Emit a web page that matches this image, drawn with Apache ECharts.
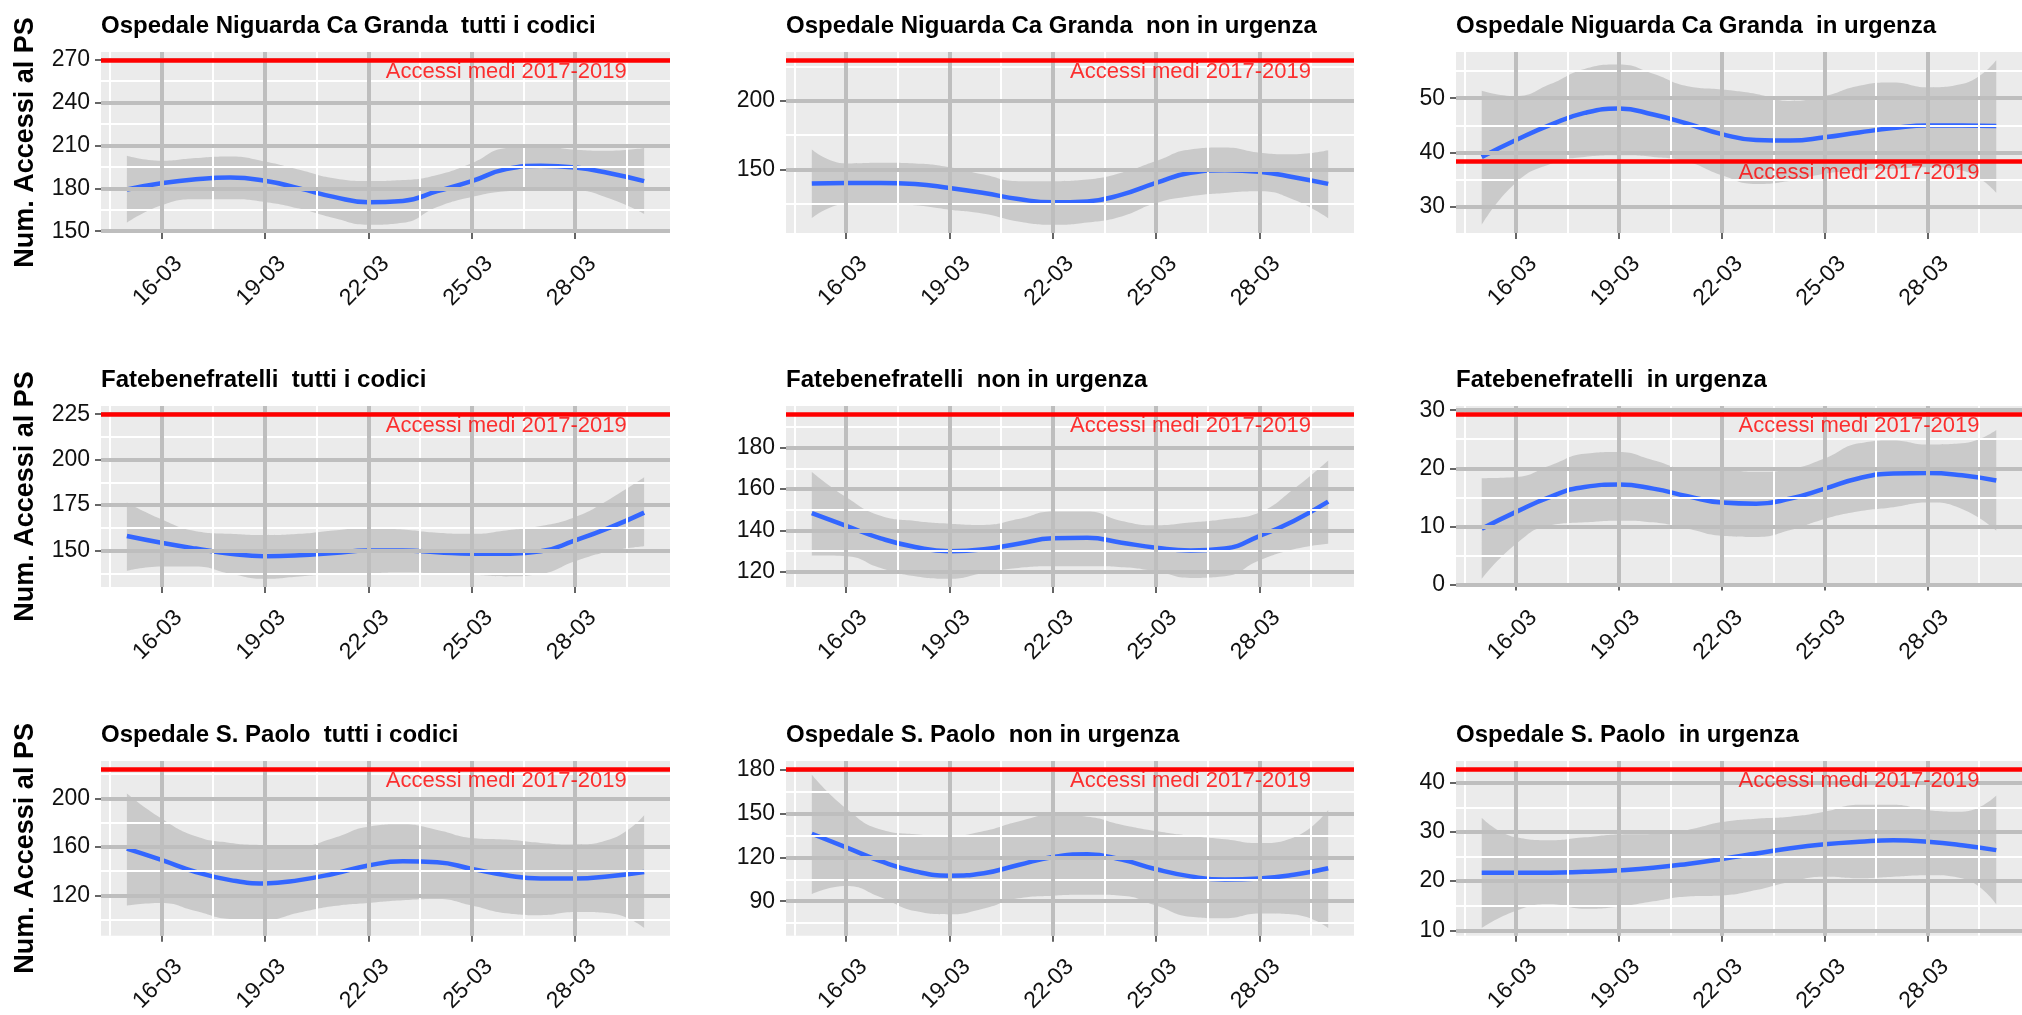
<!DOCTYPE html>
<html><head><meta charset="utf-8">
<script src="https://cdn.jsdelivr.net/npm/echarts@6/dist/echarts.min.js"></script>
<style>html,body{margin:0;padding:0;background:#fff}#c{width:2022px;height:1015px}</style>
</head><body><div id="c"></div><script>
// ---- DATA ----
const days = [15,16,17,18,19,20,21,22,23,24,25,26,27,28,29,30];
const xTickDays = [16,19,22,25,28];
const xTickLabels = ['16-03','19-03','22-03','25-03','28-03'];
const refLabelText = 'Accessi medi 2017-2019';
const refLabelDay = 26;
const yAxisTitle = 'Num. Accessi al PS';

const titles = [
  'Ospedale Niguarda Ca Granda  tutti i codici',
  'Ospedale Niguarda Ca Granda  non in urgenza',
  'Ospedale Niguarda Ca Granda  in urgenza',
  'Fatebenefratelli  tutti i codici',
  'Fatebenefratelli  non in urgenza',
  'Fatebenefratelli  in urgenza',
  'Ospedale S. Paolo  tutti i codici',
  'Ospedale S. Paolo  non in urgenza',
  'Ospedale S. Paolo  in urgenza'
];

// Niguarda - tutti i codici
const nigTuttiFit   = [179.2,183.5,186.3,187.5,185.3,180.0,174.0,170.3,171.2,178.0,185.0,193.4,195.7,194.5,190.5,185.0];
const nigTuttiUpper = [202.8,199.3,201.2,202.3,198.8,193.0,187.0,185.1,185.8,189.4,197.6,208.2,209.4,207.0,206.3,208.2];
const nigTuttiLower = [155.9,168.1,172.4,172.4,170.5,165.8,159.2,154.5,155.9,167.0,174.0,178.0,179.2,178.7,172.9,162.2];
const nigTuttiRef = 269.6;
const nigTuttiTicks = [150,180,210,240,270];

// Niguarda - non in urgenza
const nigNonFit   = [139.8,140.2,140.2,139.5,136.6,132.9,128.5,126.1,126.8,131.7,140.2,147.6,149.5,148.3,144.4,139.5];
const nigNonUpper = [164.6,154.4,154.9,154.4,151.7,146.3,141.5,141.5,142.7,147.6,156.1,164.6,165.9,162.2,161.0,163.9];
const nigNonLower = [114.6,125.1,125.6,123.9,120.7,117.8,112.2,109.8,111.5,115.9,125.6,130.5,132.9,134.1,128.0,114.6];
const nigNonRef = 229.4;
const nigNonTicks = [150,200];

// Niguarda - in urgenza
const nigUrgFit   = [39.2,42.3,45.1,47.3,48.1,47.0,45.3,43.4,42.3,42.2,42.8,43.7,44.5,45.0,45.0,44.9];
const nigUrgUpper = [51.4,50.4,52.6,55.4,56.2,54.5,52.2,51.6,50.8,49.5,50.4,52.3,52.9,52.0,52.6,57.0];
const nigUrgLower = [26.7,34.5,37.9,39.2,39.5,39.2,38.3,35.8,34.2,34.8,36.1,36.7,37.0,37.3,36.7,32.6];
const nigUrgRef = 38.4;
const nigUrgTicks = [30,40,50];

// Fatebenefratelli - tutti i codici
const fbfTuttiFit   = [158.0,154.3,151.1,148.3,146.9,147.4,148.7,150.0,150.0,149.1,148.2,148.3,149.6,155.6,162.6,170.9];
const fbfTuttiUpper = [176.4,167.2,160.7,159.2,158.5,159.2,161.1,162.6,161.6,159.8,159.2,161.1,163.5,168.5,178.3,190.3];
const fbfTuttiLower = [138.9,141.3,141.3,137.3,134.5,135.8,137.1,137.6,138.0,137.3,136.7,135.8,137.1,144.1,149.6,152.4];
const fbfTuttiRef = 225.0;
const fbfTuttiTicks = [150,175,200,225];

// Fatebenefratelli - non in urgenza
const fbfNonFit   = [148.4,142.2,136.2,132.0,130.0,130.9,133.6,136.2,136.5,134.1,131.7,130.4,131.3,137.3,144.6,153.9];
const fbfNonUpper = [168.2,156.0,147.1,144.6,143.3,142.7,145.5,149.2,149.2,144.6,142.5,143.8,145.5,148.7,160.0,173.8];
const fbfNonLower = [127.9,127.6,121.9,117.9,116.7,119.5,121.9,122.7,122.7,122.3,120.3,117.1,117.9,125.5,130.9,133.6];
const fbfNonRef = 196.1;
const fbfNonTicks = [120,140,160,180];

// Fatebenefratelli - in urgenza
const fbfUrgFit   = [9.6,12.5,15.1,16.8,17.2,16.5,15.2,14.1,13.9,14.8,16.5,18.3,19.1,19.2,18.8,17.9];
const fbfUrgUpper = [18.3,18.5,20.5,22.5,22.8,21.4,19.9,19.8,19.4,19.9,21.7,24.3,24.8,24.1,24.3,26.6];
const fbfUrgLower = [1.0,7.0,10.2,10.7,11.0,10.7,9.6,8.4,8.2,9.4,11.3,12.6,13.3,14.1,13.0,9.3];
const fbfUrgRef = 29.3;
const fbfUrgTicks = [0,10,20,30];

// S. Paolo - tutti i codici
const spTuttiFit   = [158.5,149.2,139.3,132.6,129.9,132.6,137.9,144.6,148.1,147.3,141.9,136.6,133.9,133.9,135.8,139.3];
const spTuttiUpper = [204.0,183.4,168.7,163.3,161.5,160.7,167.4,176.7,178.6,174.0,167.4,166.0,163.3,162.0,166.0,186.1];
const spTuttiLower = [111.7,113.8,107.1,100.5,99.7,105.8,111.2,113.8,116.0,117.0,111.7,105.3,103.7,106.3,105.3,93.2];
const spTuttiRef = 224.3;
const spTuttiTicks = [120,160,200];

// S. Paolo - non in urgenza
const spNonFit   = [136.2,126.9,117.4,110.4,107.5,109.2,114.8,120.3,122.1,118.5,111.9,107.0,104.8,105.5,108.1,112.6];
const spNonUpper = [176.7,153.5,139.1,135.8,134.7,138.0,144.6,149.0,147.9,142.4,138.0,134.7,132.5,129.8,133.6,152.4];
const spNonLower = [94.9,100.4,92.7,83.2,80.9,84.9,92.0,93.8,94.4,93.8,87.1,79.4,78.3,81.6,80.9,71.7];
const spNonRef = 180.6;
const spNonTicks = [90,120,150,180];

// S. Paolo - in urgenza
const spUrgFit   = [21.7,21.7,21.7,21.9,22.2,22.7,23.5,24.5,25.6,26.7,27.5,28.0,28.3,28.0,27.3,26.3];
const spUrgUpper = [32.9,28.9,28.3,28.9,29.5,29.6,30.4,32.0,32.7,33.1,34.1,35.5,35.5,34.4,34.1,37.4];
const spUrgLower = [10.5,14.0,15.3,14.4,14.8,15.9,16.9,17.1,18.2,19.9,20.9,20.6,20.9,21.2,20.6,15.3];
const spUrgRef = 42.8;
const spUrgTicks = [10,20,30,40];

const panels = [
  {fit:nigTuttiFit, upper:nigTuttiUpper, lower:nigTuttiLower, ref:nigTuttiRef, ticks:nigTuttiTicks},
  {fit:nigNonFit, upper:nigNonUpper, lower:nigNonLower, ref:nigNonRef, ticks:nigNonTicks},
  {fit:nigUrgFit, upper:nigUrgUpper, lower:nigUrgLower, ref:nigUrgRef, ticks:nigUrgTicks},
  {fit:fbfTuttiFit, upper:fbfTuttiUpper, lower:fbfTuttiLower, ref:fbfTuttiRef, ticks:fbfTuttiTicks},
  {fit:fbfNonFit, upper:fbfNonUpper, lower:fbfNonLower, ref:fbfNonRef, ticks:fbfNonTicks},
  {fit:fbfUrgFit, upper:fbfUrgUpper, lower:fbfUrgLower, ref:fbfUrgRef, ticks:fbfUrgTicks},
  {fit:spTuttiFit, upper:spTuttiUpper, lower:spTuttiLower, ref:spTuttiRef, ticks:spTuttiTicks},
  {fit:spNonFit, upper:spNonUpper, lower:spNonLower, ref:spNonRef, ticks:spNonTicks},
  {fit:spUrgFit, upper:spUrgUpper, lower:spUrgLower, ref:spUrgRef, ticks:spUrgTicks}
];

// ---- LAYOUT / STYLE ----
const colLeft = [101, 786, 1456];
const colWidth = [569, 568, 582];
const rowTop = [52, 406, 761];
const plotHeight = 181;
const FONT = "'Liberation Sans', Arial, Helvetica, sans-serif";
const BG = '#EBEBEB', MAJOR = '#BEBEBE', MINOR = '#FFFFFF';

function expand(lo, hi){ const p = (hi-lo)*0.05; return [lo-p, hi+p]; }
function minors(ticks, lo, hi){
  const step = ticks.length > 1 ? ticks[1]-ticks[0] : 10;
  const out = [];
  for (let v = ticks[0]-step/2; v <= ticks[ticks.length-1]+step/2 + 1e-9; v += step) {
    if (v > lo && v < hi) out.push(v);
  }
  return out;
}

const xLim = expand(days[0], days[days.length-1]);
const xMinor = minors(xTickDays, xLim[0], xLim[1]);

const option = {animation:false, backgroundColor:'#ffffff', title:[], grid:[], xAxis:[], yAxis:[], series:[]};

panels.forEach((p, i) => {
  const r = Math.floor(i/3), c = i % 3;
  const yLim = expand(Math.min(...p.lower, p.ref), Math.max(...p.upper, p.ref));
  const yMinor = minors(p.ticks, yLim[0], yLim[1]);

  option.title.push({
    text: titles[i], left: colLeft[c], top: rowTop[r]-38, padding: 0,
    textStyle: {fontFamily: FONT, fontSize: 24, fontWeight: 'bold', color: '#000'}
  });
  option.grid.push({left: colLeft[c], top: rowTop[r], width: colWidth[c], height: plotHeight,
    show: true, backgroundColor: BG, borderWidth: 0});

  option.xAxis.push({
    type: 'value', gridIndex: i, min: xLim[0], max: xLim[1],
    axisLine: {show: false}, splitLine: {show: false},
    axisTick: {show: true, customValues: xTickDays, length: 6, lineStyle: {color: '#333', width: 1.5}},
    axisLabel: {customValues: xTickDays, formatter: v => xTickLabels[xTickDays.indexOf(v)],
      rotate: 45, align: 'right', verticalAlign: 'top', margin: 10, padding: [13, 0, 0, 0],
      fontSize: 23, fontFamily: FONT, color: '#111'}
  });
  const ya = {
    type: 'value', gridIndex: i, min: yLim[0], max: yLim[1],
    axisLine: {show: false}, splitLine: {show: false},
    axisTick: {show: true, customValues: p.ticks, length: 6, lineStyle: {color: '#333', width: 1.5}},
    axisLabel: {customValues: p.ticks, margin: 11, fontSize: 23, fontFamily: FONT, color: '#111'}
  };
  if (c === 0) {
    ya.name = yAxisTitle; ya.nameLocation = 'middle'; ya.nameRotate = 90; ya.nameGap = 62;
    ya.nameTextStyle = {fontFamily: FONT, fontSize: 27, fontWeight: 'bold', color: '#000'};
  }
  option.yAxis.push(ya);

  const gl = (key, v, col, w) => ({[key]: v, lineStyle: {color: col, width: w, type: 'solid'}});
  // grid lines
  option.series.push({
    type: 'line', xAxisIndex: i, yAxisIndex: i, data: [], silent: true, z: 1,
    markLine: {silent: true, symbol: ['none','none'], label: {show: false}, animation: false,
      emphasis: {disabled: true},
      data: [
        ...yMinor.map(v => gl('yAxis', v, MINOR, 2)),
        ...xMinor.map(v => gl('xAxis', v, MINOR, 2)),
        ...p.ticks.map(v => gl('yAxis', v, MAJOR, 4)),
        ...xTickDays.map(v => gl('xAxis', v, MAJOR, 4))
      ]}
  });
  // ribbon (value first so that the stack is applied on the y dimension)
  option.series.push({
    type: 'line', xAxisIndex: i, yAxisIndex: i, stack: 'band'+i, smooth: true, symbol: 'none', silent: true, z: 2,
    encode: {x: 1, y: 0},
    lineStyle: {opacity: 0}, data: days.map((d,k) => [p.lower[k], d])
  });
  option.series.push({
    type: 'line', xAxisIndex: i, yAxisIndex: i, stack: 'band'+i, smooth: true, symbol: 'none', silent: true, z: 2,
    encode: {x: 1, y: 0},
    lineStyle: {opacity: 0}, areaStyle: {color: 'rgba(153,153,153,0.4)', opacity: 1},
    data: days.map((d,k) => [p.upper[k]-p.lower[k], d])
  });
  // fit line
  option.series.push({
    type: 'line', xAxisIndex: i, yAxisIndex: i, smooth: true, symbol: 'none', silent: true, z: 3,
    lineStyle: {color: '#3366FF', width: 4.5}, data: days.map((d,k) => [d, p.fit[k]])
  });
  // reference line
  option.series.push({
    type: 'line', xAxisIndex: i, yAxisIndex: i, data: [], silent: true, z: 4,
    markLine: {silent: true, symbol: ['none','none'], label: {show: false}, animation: false,
      emphasis: {disabled: true},
      data: [{yAxis: p.ref, lineStyle: {color: '#FF0000', width: 4.5, type: 'solid'}}]}
  });
  // reference label
  option.series.push({
    type: 'scatter', xAxisIndex: i, yAxisIndex: i, silent: true, z: 5, symbolSize: 0,
    data: [[refLabelDay, p.ref]],
    label: {show: true, formatter: refLabelText, position: 'bottom', distance: 1,
      fontFamily: FONT, fontSize: 22, color: '#FF0000'}
  });
});

const chart = echarts.init(document.getElementById('c'), null, {renderer: 'canvas'});
chart.setOption(option);
</script></body></html>
